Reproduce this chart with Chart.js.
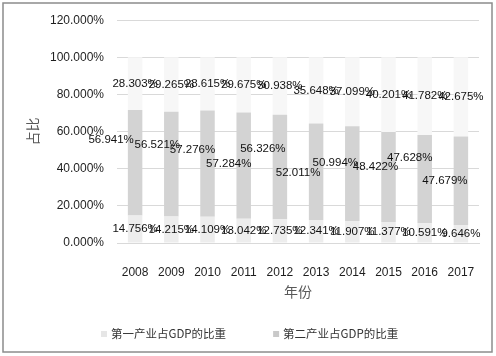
<!DOCTYPE html>
<html lang="zh">
<head>
  <meta charset="UTF-8" />
  <title>产业占GDP的比重</title>
  <style>
    body { margin: 0; background: #fff; }
    #wrap { width: 496px; height: 356px; }
  </style>
  <script src="https://cdn.jsdelivr.net/npm/chart.js"></script>
</head>
<body>
  <div id="wrap"><canvas id="gdpChart" width="496" height="356"></canvas></div>
  <script>
    const years = ['2008', '2009', '2010', '2011', '2012', '2013', '2014', '2015', '2016', '2017'];
    const primary = [14.756, 14.215, 14.109, 13.042, 12.735, 12.341, 11.907, 11.377, 10.591, 9.646];
    const secondary = [56.941, 56.521, 57.276, 57.284, 56.326, 52.011, 50.994, 48.422, 47.628, 47.679];
    const tertiary = [28.303, 29.265, 28.615, 29.675, 30.938, 35.648, 37.099, 40.201, 41.782, 42.675];
    const yTicks = [0, 20, 40, 60, 80, 100, 120];
    const names = ['第一产业占GDP的比重', '第二产业占GDP的比重', '第三产业占GDP的比重'];

    // the 2nd-series labels were dragged by hand in the original, [dx, dy] in px
    const midShift = [[-24, -23], [-14, -19], [-15, -14], [-15, -2], [-17, -18],
                      [-18, 1], [-17, -11], [-13, -10], [-15, -21], [-16, 0]];

    const latin = '"Liberation Sans", "Noto Sans CJK SC", sans-serif';
    const cjk = '"Noto Sans CJK SC", sans-serif';

    const valueLabels = {
      id: 'valueLabels',
      afterDatasetsDraw(chart) {
        const ctx = chart.ctx;
        ctx.save();
        ctx.font = '11.5px ' + latin;
        ctx.fillStyle = '#111';
        ctx.textAlign = 'center';
        ctx.textBaseline = 'middle';
        chart.data.datasets.forEach((ds, i) => {
          chart.getDatasetMeta(i).data.forEach((bar, j) => {
            let x = bar.x, y = (bar.y + bar.base) / 2;
            if (i === 1) { x += midShift[j][0]; y += midShift[j][1]; }
            ctx.fillText(ds.data[j].toFixed(3) + '%', x, y);
          });
        });
        ctx.restore();
      }
    };

    // legend shows only the first two series, drawn like the original sheet
    const sheetLegend = {
      id: 'sheetLegend',
      afterDraw(chart) {
        const ctx = chart.ctx;
        ctx.save();
        ctx.font = '11.5px ' + cjk;
        ctx.textBaseline = 'middle';
        let x = 101;
        const y = 334;
        for (let i = 0; i < 2; i++) {
          const ds = chart.data.datasets[i];
          ctx.fillStyle = i === 0 ? '#e6e6e6' : '#c9c9c9';
          ctx.fillRect(x, y - 3, 6, 6);
          ctx.fillStyle = '#333';
          ctx.fillText(ds.label, x + 10, y);
          x += 10 + ctx.measureText(ds.label).width + 47;
        }
        // outer frame
        ctx.strokeStyle = '#8c8c8c';
        ctx.lineWidth = 1.5;
        ctx.strokeRect(3, 3, 489, 349);
        ctx.restore();
      }
    };

    new Chart(document.getElementById('gdpChart'), {
      type: 'bar',
      data: {
        labels: years,
        datasets: [
          { label: names[0], data: primary, backgroundColor: '#ededed' },
          { label: names[1], data: secondary, backgroundColor: '#d3d3d3' },
          { label: names[2], data: tertiary, backgroundColor: '#f7f7f7' }
        ]
      },
      options: {
        responsive: false,
        animation: false,
        devicePixelRatio: 1,
        barPercentage: 0.4,
        categoryPercentage: 1.0,
        layout: { padding: { left: 20, right: 17, top: 19, bottom: 52 } },
        plugins: {
          legend: { display: false },
          tooltip: { enabled: false }
        },
        scales: {
          x: {
            stacked: true,
            afterFit(s) { s.height = 61; },
            grid: { display: false },
            border: { color: '#d9d9d9' },
            ticks: { padding: 14, color: '#1e1e1e', font: { family: latin, size: 12 } },
            title: {
              display: true, text: '年份', color: '#595959',
              padding: { top: 0, bottom: 4 },
              font: { family: cjk, size: 14 }
            }
          },
          y: {
            stacked: true,
            min: 0,
            max: 120,
            afterFit(s) { s.width = 97; },
            afterBuildTicks(s) { s.ticks = yTicks.map(v => ({ value: v })); },
            grid: { color: '#d9d9d9', drawTicks: false },
            border: { display: false },
            ticks: {
              padding: 13, color: '#1e1e1e',
              font: { family: latin, size: 12 },
              callback: v => v.toFixed(3) + '%'
            },
            title: {
              display: true, text: '占比', color: '#595959',
              padding: { top: 4, bottom: 0 },
              font: { family: cjk, size: 14 }
            }
          }
        }
      },
      plugins: [valueLabels, sheetLegend]
    });
  </script>
</body>
</html>
